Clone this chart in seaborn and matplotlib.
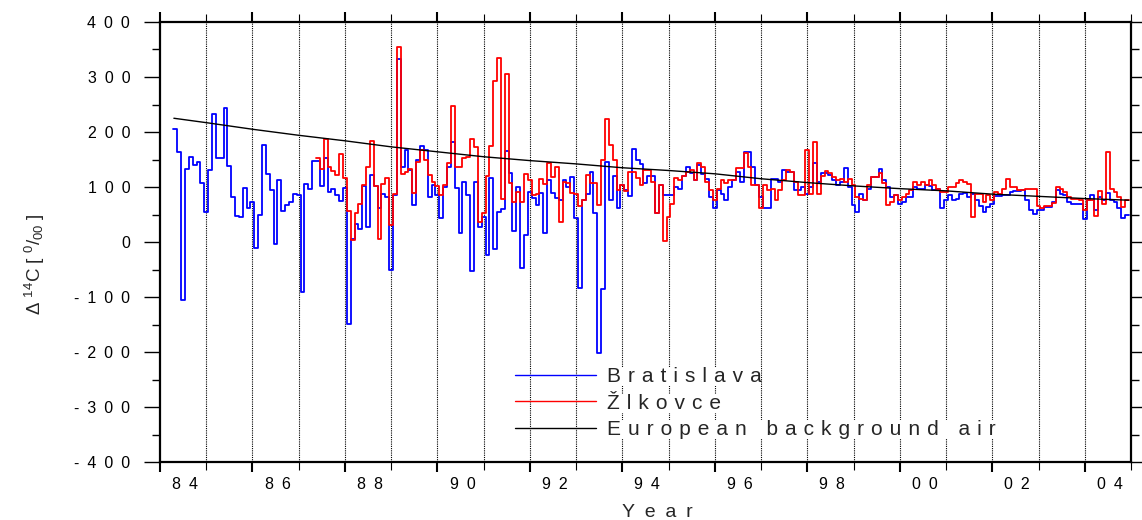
import numpy as np
import pandas as pd
import matplotlib
matplotlib.use("Agg")
import matplotlib.pyplot as plt
from matplotlib.transforms import ScaledTranslation
from matplotlib.lines import Line2D
import seaborn as sns

# Monthly Δ14C of atmospheric CO2 (per mil)
bratislava_start = 1984.29
bratislava = [
    205, 163, -105, 132, 155, 140, 145, 108, 54, 131,
    232, 153, 153, 244, 139, 81, 47, 45, 99, 61,
    73, -11, 50, 177, 124, 94, -3, 113, 57, 68,
    73, 87, 85, -90, 105, 96, 148, 148, 102, 152,
    91, 96, 86, 75, 99, -149, 5, 33, 23, 102,
    28, 122, 102, 61, 88, 82, -50, 86, 332, 137,
    168, 131, 67, 149, 175, 168, 81, 103, 86, 43,
    100, 137, 182, 98, 17, 110, 86, -52, 110, 28,
    46, -24, 116, -12, 55, 60, 166, 125, 20, 100,
    -48, 13, 91, 80, 67, 89, 17, 113, 89, 80,
    76, 113, 100, 119, 43, -84, 76, 88, 128, 52,
    -201, -86, 146, 76, 120, 61, 104, 94, 83, 170,
    150, 142, 107, 120, 120, 52, 104, 85, 85, 85,
    100, 97, 120, 137, 125, 113, 140, 123, 115, 82,
    61, 94, 88, 76, 100, 113, 127, 109, 164, 164,
    137, 104, 82, 61, 61, 115, 115, 109, 131, 127,
    127, 95, 95, 100, 88, 100, 144, 110, 126, 126,
    122, 112, 104, 110, 134, 100, 68, 55, 88, 76,
    97, 118, 118, 132, 113, 100, 82, 85, 70, 73,
    81, 82, 100, 97, 97, 104, 101, 94, 96, 61,
    76, 85, 76, 79, 88, 90, 82, 87, 76, 65,
    55, 63, 70, 83, 83, 85, 85, 91, 93, 93,
    94, 76, 58, 51, 58, 58, 64, 64, 73, 94,
    88, 85, 73, 69, 69, 70, 42, 76, 85, 58,
    82, 77, 90, 77, 73, 61, 43, 49,
]

zlkovce_start = bratislava_start + 37 / 12
zlkovce = [
    153, 132, 187,
    137, 130, 122, 160, 117, 57, 3, 53, 69, 104,
    137, 183, 101, 6, 105, 116, 31, 87, 355, 124,
    128, 132, 89, 146, 168, 149, 122, 110, 101, 86,
    104, 143, 247, 137, 137, 152, 154, 188, 173, 37,
    52, 120, 175, 292, 334, 78, 305, 107, 73, 91,
    73, 124, 113, 86, 88, 114, 105, 143, 119, 137,
    37, 110, 107, 89, 88, 66, 76, 122, 108, 108,
    67, 149, 223, 177, 149, 94, 104, 93, 128, 128,
    116, 104, 131, 131, 110, 52, 104, 1, 46, 70,
    117, 113, 120, 127, 131, 113, 143, 137, 110, 94,
    76, 97, 113, 107, 113, 113, 134, 134, 162, 137,
    104, 104, 61, 104, 94, 97, 76, 94, 113, 131,
    127, 109, 85, 85, 167, 88, 182, 88, 120, 130,
    126, 118, 112, 115, 110, 115, 104, 82, 79, 76,
    104, 119, 119, 126, 107, 67, 73, 85, 76, 82,
    87, 94, 110, 104, 110, 104, 113, 104, 97, 91,
    91, 100, 100, 107, 113, 109, 106, 46, 87, 87,
    73, 85, 76, 91, 88, 96, 114, 100, 100, 94,
    94, 96, 96, 97, 65, 61, 65, 65, 71, 100,
    97, 91, 82, 79, 79, 76, 59, 76, 76, 47,
    93, 69, 164, 97, 91, 82, 64, 76,
]

background_year = [1984.3, 1985, 1986, 1987, 1988, 1989, 1990, 1991, 1992,
                   1993, 1994, 1995, 1996, 1997, 1998, 1999, 2000, 2001,
                   2002, 2003, 2004, 2004.95]
background_value = [225, 217, 205, 194, 184, 173, 164, 155, 148,
                    142, 135, 130, 124, 115, 108, 102, 97, 93,
                    87, 83, 79, 76]

year_ticks = list(range(1984, 2005, 2))
year_labels = ["84", "86", "88", "90", "92", "94", "96", "98", "00", "02", "04"]
value_ticks = list(range(-400, 401, 100))

series_names = ["Bratislava", "Žlkovce", "European background air"]
series_colors = ["#0000ff", "#ff0000", "#000000"]


def spaced(text, gap):
    """Wide letter tracking, as used throughout the figure."""
    return gap.join(text)


def monthly_steps(start, values):
    n = len(values)
    return pd.DataFrame({
        "year": start + np.arange(n + 1) / 12.0,
        "value": list(values) + [values[-1]],
    })


sns.set_style("ticks")
plt.rcParams["font.family"] = ["Liberation Sans", "DejaVu Sans"]
plt.rcParams["mathtext.fontset"] = "custom"
plt.rcParams["mathtext.rm"] = "Liberation Sans"
plt.rcParams["mathtext.it"] = "Liberation Sans"
plt.rcParams["mathtext.default"] = "regular"

fig = plt.figure(figsize=(11.42, 5.20), dpi=100)
ax = fig.add_axes([160 / 1142, 1 - 462 / 520, 971 / 1142, 440 / 520])

sns.lineplot(data=monthly_steps(bratislava_start, bratislava), x="year", y="value",
             drawstyle="steps-post", color=series_colors[0], lw=1.3,
             estimator=None, sort=False, ax=ax)
sns.lineplot(data=monthly_steps(zlkovce_start, zlkovce), x="year", y="value",
             drawstyle="steps-post", color=series_colors[1], lw=1.3,
             estimator=None, sort=False, ax=ax)
sns.lineplot(x=background_year, y=background_value, color=series_colors[2],
             lw=1.0, estimator=None, sort=False, ax=ax)

ax.set_xlim(1984, 2005)
ax.set_ylim(-400, 400)

# axis ticks: even years major, odd years minor; labels centred on the year
ax.set_xticks(year_ticks)
ax.set_xticks(list(range(1985, 2006, 2)), minor=True)
ax.set_xticklabels([spaced(s, "\u2002") for s in year_labels])
ax.set_yticks(value_ticks)
ax.set_yticks(list(range(-350, 400, 100)), minor=True)
ax.set_yticklabels([spaced(str(v), "\u2002") for v in value_ticks])

ax.tick_params(axis="both", which="both", direction="out",
               top=True, right=True, color="black", labelsize=11.5,
               labelcolor="black")
ax.tick_params(axis="x", which="major", length=7.5, width=1.5, pad=3)
ax.tick_params(axis="x", which="minor", length=5.5, width=0.8)
ax.tick_params(axis="y", which="major", length=11.5, width=1.0, pad=10)
ax.tick_params(axis="y", which="minor", length=5.8, width=1.0)

shift = ScaledTranslation(0.25, 0, fig.dpi_scale_trans)
for lbl in ax.get_xticklabels():
    lbl.set_transform(lbl.get_transform() + shift)

for side in ["left", "right", "top", "bottom"]:
    ax.spines[side].set_visible(True)
    ax.spines[side].set_color("black")
    ax.spines[side].set_linewidth(1.6)

ax.grid(False)
for yr in range(1985, 2005):
    ax.axvline(yr, color="black", lw=0.8, ls=(0, (1, 1)), zorder=0.5)

ax.set_xlabel(spaced("Year", "\u2002"), fontsize=14)
ax.xaxis.set_label_coords(0.512, -0.095)
ax.set_ylabel(r"$\Delta$ $^{14}$C [ $^{0}$/$_{00}$ ]", fontsize=13.5,
              rotation=90, ha="center", va="center")
ax.yaxis.set_label_coords(-0.129, 0.45)

handles = [Line2D([], [], color=c, lw=1.0) for c in series_colors]
labels = [spaced(n, "\u2004") for n in series_names]
leg = ax.legend(handles, labels, loc="upper left",
                bbox_to_anchor=(0.3656, 0.215), frameon=False,
                borderpad=0, borderaxespad=0, handlelength=3.9,
                handletextpad=0.5, labelspacing=0.35, fontsize=15)
for t in leg.get_texts():
    t.set_bbox(dict(facecolor="white", edgecolor="none", pad=0))

fig.savefig("out.png", dpi=100, facecolor="white")
